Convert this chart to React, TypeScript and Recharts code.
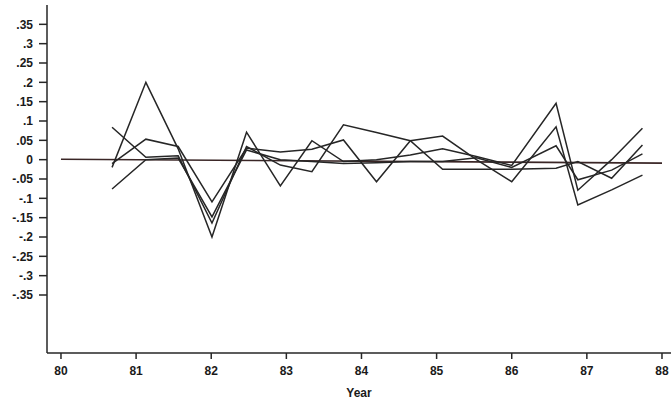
import { LineChart, Line, XAxis, YAxis } from 'recharts';

// observation dates (fractional years)
const years = [80.68, 81.13, 81.56, 82.01, 82.47, 82.92, 83.34, 83.76, 84.2, 84.65, 85.08, 85.53, 86.0, 86.59, 86.88, 87.33, 87.74];

const seriesP = [-0.02, 0.2, 0.028, -0.2, 0.071, -0.068, 0.049, -0.005, 0.0, 0.012, 0.028, 0.008, -0.015, 0.146, -0.079, 0.0, 0.081];
const seriesQ = [0.084, 0.006, 0.01, -0.164, 0.034, -0.014, -0.031, 0.09, 0.07, 0.049, -0.025, -0.025, -0.025, -0.022, -0.005, -0.048, 0.038];
const seriesR = [-0.01, 0.053, 0.034, -0.109, 0.03, 0.02, 0.027, 0.051, -0.057, 0.049, 0.061, 0.0, -0.057, 0.085, -0.117, -0.078, -0.04];
const seriesS = [-0.076, 0.0, 0.004, -0.148, 0.025, 0.0, -0.005, -0.01, -0.008, -0.005, -0.005, 0.005, -0.02, 0.036, -0.052, -0.027, 0.015];

const baseYears = [80, 88];
const baseValues = [0.001, -0.009];

const xTicks = [80, 81, 82, 83, 84, 85, 86, 87, 88];
const yTicks = [0.35, 0.3, 0.25, 0.2, 0.15, 0.1, 0.05, 0, -0.05, -0.1, -0.15, -0.2, -0.25, -0.3, -0.35];

const data = years.map((year, i) => ({
  year,
  p: seriesP[i],
  q: seriesQ[i],
  r: seriesR[i],
  s: seriesS[i],
}));

const baseData = baseYears.map((year, i) => ({ year, base: baseValues[i] }));

const fmt = (v: number) =>
  v === 0 ? '0' : v.toFixed(2).replace(/0+$/, '').replace('0.', '.');

const ink = '#262626';
const tickStyle = { fontSize: 12, fontWeight: 'bold', fill: '#1a1a1a', fontFamily: 'Liberation Sans, Arial, sans-serif' };

export default function App() {
  return (
    <div style={{ position: 'absolute', left: 0, top: 0, background: '#fff' }}>
      <LineChart width={671} height={403} data={data} margin={{ top: 5, right: 0, bottom: 0, left: 0 }}>
        <XAxis
          dataKey="year"
          type="number"
          domain={[79.814, 88.12]}
          ticks={xTicks}
          allowDataOverflow
          height={50}
          stroke={ink}
          strokeWidth={1.5}
          tickSize={6}
          tickMargin={7}
          tick={tickStyle}
          label={{ value: 'Year', position: 'insideBottom', offset: 6, style: tickStyle }}
        />
        <YAxis
          type="number"
          domain={[-0.5, 0.4]}
          ticks={yTicks}
          allowDataOverflow
          width={47}
          stroke={ink}
          strokeWidth={1.5}
          tickSize={8}
          tickMargin={6}
          tick={tickStyle}
          tickFormatter={fmt}
          interval={0}
        />
        <Line data={baseData} dataKey="base" stroke="#3a2626" strokeWidth={1.6} dot={false} isAnimationActive={false} />
        <Line dataKey="p" stroke={ink} strokeWidth={1.5} dot={false} isAnimationActive={false} />
        <Line dataKey="q" stroke={ink} strokeWidth={1.5} dot={false} isAnimationActive={false} />
        <Line dataKey="r" stroke={ink} strokeWidth={1.5} dot={false} isAnimationActive={false} />
        <Line dataKey="s" stroke={ink} strokeWidth={1.5} dot={false} isAnimationActive={false} />
      </LineChart>
    </div>
  );
}
